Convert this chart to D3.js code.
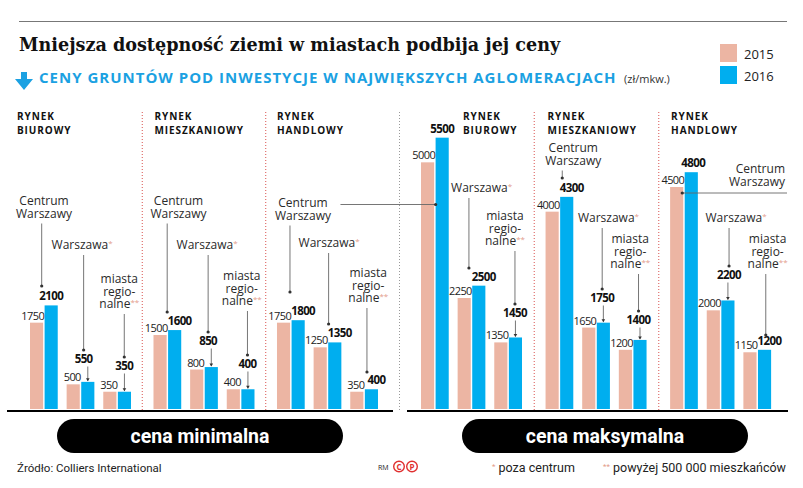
<!DOCTYPE html>
<html>
<head>
<meta charset="utf-8">
<script src="https://cdn.jsdelivr.net/npm/d3@7"></script>
<style>
  body { margin: 0; background: #fff; }
  svg { display: block; }
</style>
</head>
<body>
<div id="chart"></div>
<script>
// --- dane ---
const years = ["2015", "2016"];
const priceTypes = ["cena minimalna", "cena maksymalna"];
const markets = [["RYNEK", "BIUROWY"], ["RYNEK", "MIESZKANIOWY"], ["RYNEK", "HANDLOWY"]];
const locations = ["Centrum Warszawy", "Warszawa*", "miasta regionalne**"];
const locationLines = [["Centrum", "Warszawy"], ["Warszawa*"], ["miasta", "regio-", "nalne**"]];
// kolejnosc: biurowy (3 lokalizacje), mieszkaniowy, handlowy
const min2015 = [1750, 500, 350, 1500, 800, 400, 1750, 1250, 350];
const min2016 = [2100, 550, 350, 1600, 850, 400, 1800, 1350, 400];
const max2015 = [5000, 2250, 1350, 4000, 1650, 1200, 4500, 2000, 1150];
const max2016 = [5500, 2500, 1450, 4300, 1750, 1400, 4800, 2200, 1200];
const source = "Źródło: Colliers International";

// --- uklad opisow (pozycje etykiet lokalizacji, nie dane) ---
// dx: srodek nazwy od poczatku grupy, lx: x linii odnosnika, ty: linia bazowa 1. wiersza,
// dot: koniec odnosnika, float: wartosc 2016 "zawieszona" nad slupkiem
const labelLayout = [
  {dx: 14, lx: 11.7, ty: 205, dot: 286, float: false, vdx: 0},
  {dx: 15.5, lx: 17, ty: 249, dot: 350, float: true},
  {dx: 16, lx: 21, ty: 283, dot: 357, float: true},
  {dx: 25, lx: 13.7, ty: 205, dot: 312, float: false},
  {dx: 17, lx: 18, ty: 249, dot: 332, float: true},
  {dx: 15, lx: 20.7, ty: 280, dot: 355, float: true},
  {dx: 26, lx: 13, ty: 207, dot: 292, float: false, link: 9},
  {dx: 15.5, lx: 15, ty: 247, dot: 324, float: false},
  {dx: 18, lx: 16.7, ty: 277, dot: 372, float: false},
  {none: true, vdx: 0},
  {dx: 24, lx: 11.3, ty: 192, dot: 268, float: false},
  {dx: 10.7, lx: 20.7, ty: 220, dot: 304, float: true},
  {dx: 27.7, lx: 16.7, ty: 152, dot: 178, float: false},
  {dx: 26.3, lx: 20, ty: 222, dot: 289, float: true},
  {dx: 11.4, lx: 19.7, ty: 243, dot: 311, float: true},
  {right: true, ty: 173, lineY: 193, vdx: 2},
  {dx: 29.3, lx: 22.3, ty: 222, dot: 266, float: true},
  {dx: 24.2, lx: 22.4, ty: 243, dot: 335, float: false}
];
const headerDx = [[-13, 1, 0], [42, 2, 1]];

const PINK = "#ecb5a3", BLUE = "#00aeef", LEAD = "#666";
const W = 803, H = 488;

const rows = [];
priceTypes.forEach((p, pi) => {
  const v15 = pi === 0 ? min2015 : max2015;
  const v16 = pi === 0 ? min2016 : max2016;
  markets.forEach((m, mi) => {
    locations.forEach((l, li) => {
      const k = mi * 3 + li;
      rows.push({price: p, pi, market: m, mi, loc: l, li, "2015": v15[k], "2016": v16[k]});
    });
  });
});

const svg = d3.select("#chart").append("svg").attr("width", W).attr("height", H)
  .style("font-family", "'Open Sans', sans-serif");

// --- skale ---
const y = d3.scaleLinear().domain([0, 6000]).range([409, 113]);
const panelX = [
  d3.scaleBand().domain(d3.range(3)).range([30, 378]).paddingInner(0.182),
  d3.scaleBand().domain(d3.range(3)).range([421, 772]).paddingInner(0.182)
];
const groupX = d3.scaleBand().domain(locations).range([0, 101]).paddingInner(0.243);
const yearX = d3.scaleBand().domain(years).range([0, groupX.bandwidth()]).paddingInner(0.1);
const halfExtent = [[7, 393], [407, 788]];

const gx = d => panelX[d.pi](d.mi) + groupX(d.loc);

// --- naglowek ---
svg.append("line").attr("x1", 19).attr("x2", 787).attr("y1", 21.5).attr("y2", 21.5)
  .attr("stroke", "#777").attr("stroke-width", 1);
svg.append("text").attr("x", 19).attr("y", 51)
  .style("font-family", "'DejaVu Serif', serif").style("font-weight", 700)
  .style("font-size", "17.6px").attr("fill", "#111")
  .text("Mniejsza dostępność ziemi w miastach podbija jej ceny");

svg.append("path")
  .attr("d", "M21,72 h6 v7 h6 l-9,11 l-9,-11 h6 z")
  .attr("fill", "#1ba1e2");
svg.append("text").attr("x", 39).attr("y", 83)
  .style("font-size", "15px").style("font-weight", 700).style("letter-spacing", "1px")
  .attr("fill", "#1ba1e2")
  .text("CENY GRUNTÓW POD INWESTYCJE W NAJWIĘKSZYCH AGLOMERACJACH");
svg.append("text").attr("x", 624).attr("y", 83)
  .style("font-size", "11px").attr("fill", "#333").text("(zł/mkw.)");

// legenda
const leg = svg.append("g");
years.forEach((yr, i) => {
  leg.append("rect").attr("x", 720).attr("y", 44 + i * 22).attr("width", 17).attr("height", 18)
    .attr("fill", i === 0 ? PINK : BLUE);
  leg.append("text").attr("x", 744).attr("y", 59 + i * 22)
    .style("font-size", "13px").attr("fill", "#222").text(yr);
});

// --- separatory ---
priceTypes.forEach((p, pi) => {
  [0, 1].forEach(j => {
    const sx = (panelX[pi](j) + panelX[pi].bandwidth() + panelX[pi](j + 1)) / 2;
    svg.append("line").attr("x1", sx).attr("x2", sx).attr("y1", 112).attr("y2", 410)
      .attr("stroke", "#d9534f").attr("stroke-width", 1).attr("stroke-dasharray", "1,2");
  });
});
svg.append("line").attr("x1", 399.5).attr("x2", 399.5).attr("y1", 112).attr("y2", 410)
  .attr("stroke", "#999").attr("stroke-width", 1).attr("stroke-dasharray", "1,2");

// naglowki rynkow
priceTypes.forEach((p, pi) => {
  markets.forEach((m, mi) => {
    const hx = panelX[pi](mi) + headerDx[pi][mi];
    const t = svg.append("text")
      .style("font-size", "10px").style("font-weight", 700).style("letter-spacing", "0.9px")
      .attr("fill", "#111");
    m.forEach((line, k) => t.append("tspan").attr("x", hx).attr("y", 120 + k * 14).text(line));
  });
});

// --- slupki ---
const groups = svg.selectAll("g.grp").data(rows).join("g").attr("class", "grp")
  .attr("transform", d => `translate(${gx(d)},0)`);
groups.selectAll("rect").data(d => years.map(yr => ({yr, v: d[yr]}))).join("rect")
  .attr("x", d => yearX(d.yr))
  .attr("y", d => y(d.v))
  .attr("width", yearX.bandwidth())
  .attr("height", d => y(0) - y(d.v))
  .attr("fill", d => d.yr === "2015" ? PINK : BLUE);

// linie bazowe
halfExtent.forEach(([a, b]) => {
  svg.append("line").attr("x1", a).attr("x2", b).attr("y1", 411).attr("y2", 411)
    .attr("stroke", "#000").attr("stroke-width", 2.2);
});

// --- etykiety wartosci i odnosniki ---
const ann = svg.append("g");
function nameText(x, ty, lines, anchor) {
  const t = ann.append("text").attr("text-anchor", anchor || "middle")
    .style("font-size", "12px").attr("fill", "#2a2a2a");
  lines.forEach((line, k) => {
    const stars = (line.match(/\*+$/) || [""])[0];
    t.append("tspan").attr("x", x).attr("y", ty + k * 12.5).text(line.replace(/\*+$/, ""));
    if (stars) t.append("tspan").attr("dy", -3).style("font-size", "8px").attr("fill", "#e39c8a").text(stars);
  });
  return t;
}
function dot(x, yy) {
  ann.append("circle").attr("cx", x).attr("cy", yy).attr("r", 1.6).attr("fill", "#333");
}
function lead(x1, y1, x2, y2) {
  ann.append("line").attr("x1", x1).attr("y1", y1).attr("x2", x2).attr("y2", y2)
    .attr("stroke", LEAD).attr("stroke-width", 0.9);
}

rows.forEach((d, i) => {
  const L = labelLayout[i];
  const x0 = gx(d);
  const bw = yearX.bandwidth();
  const xp = x0 + yearX("2015"), xb = x0 + yearX("2016");
  const top15 = y(d["2015"]), top16 = y(d["2016"]);

  // 2015 - zwykla
  ann.append("text").attr("x", xp + bw + 1).attr("y", top15 - 3).attr("text-anchor", "end")
    .style("font-size", "11px").style("letter-spacing", "-0.6px").attr("fill", "#222")
    .text(d["2015"]);

  // 2016 - pogrubiona
  let vx, vy;
  if (L.float) {
    vx = x0 + L.lx; vy = L.dot + 12.5;
    lead(xb + bw / 2, vy + 4, xb + bw / 2, top16 - 1);
    ann.append("path").attr("d", `M${xb + bw / 2 - 1.8},${top16 - 3.5} h3.6 l-1.8,3 z`).attr("fill", "#333");
  } else {
    vx = xb + bw / 2 + (L.vdx !== undefined ? L.vdx : 5); vy = top16 - 5;
  }
  ann.append("text").attr("x", vx).attr("y", vy).attr("text-anchor", "middle")
    .style("font-size", "11.5px").style("font-weight", 700).style("letter-spacing", "-0.6px")
    .attr("fill", "#111").text(d["2016"]);

  // nazwa lokalizacji
  const lines = locationLines[d.li];
  if (L.right) {
    nameText(halfExtent[1][1] - 3, L.ty, lines, "end");
    lead(xp + bw - 1, L.lineY, halfExtent[1][1] - 1, L.lineY);
    dot(xp + bw - 1, L.lineY);
  } else if (!L.none) {
    const cx = x0 + L.dx, lx = x0 + L.lx;
    const t = nameText(cx, L.ty, lines);
    lead(lx, L.ty + (lines.length - 1) * 12.5 + 6, lx, L.dot);
    dot(lx, L.dot);
    if (L.link !== undefined) {
      const target = rows[L.link];
      const tx = gx(target) + yearX("2016");
      const w = t.node().getBBox().width;
      lead(cx + w / 2 + 9, L.ty - 2.5, tx, L.ty - 2.5);
      dot(tx, L.ty - 2.5);
    }
  }
});

// --- pigulki ---
const pillCx = [200, 605];
priceTypes.forEach((p, pi) => {
  svg.append("rect").attr("x", pillCx[pi] - 143).attr("y", 419).attr("width", 286).attr("height", 34)
    .attr("rx", 17).attr("fill", "#000");
  svg.append("text").attr("x", pillCx[pi]).attr("y", 443).attr("text-anchor", "middle")
    .style("font-family", "Roboto, sans-serif").style("font-weight", 700).style("font-size", "19.5px")
    .attr("fill", "#fff").text(p);
});

// --- stopka ---
svg.append("text").attr("x", 17).attr("y", 472).style("font-family", "Roboto, sans-serif")
  .style("font-size", "11.5px").attr("fill", "#222").text(source);
svg.append("text").attr("x", 378).attr("y", 470).style("font-size", "7px").attr("fill", "#222").text("RM");
["C", "P"].forEach((c, i) => {
  svg.append("circle").attr("cx", 399 + i * 13).attr("cy", 466.5).attr("r", 5.3)
    .attr("fill", "none").attr("stroke", "#e03030").attr("stroke-width", 1.4);
  svg.append("text").attr("x", 399 + i * 13).attr("y", 469.5).attr("text-anchor", "middle")
    .style("font-size", "8px").style("font-weight", 700).attr("fill", "#e03030").text(c);
});
const note = (x, stars, txt) => {
  const t = svg.append("text").attr("x", x).attr("y", 472).style("font-family", "Roboto, sans-serif")
    .style("font-size", "12.5px").attr("fill", "#222");
  t.append("tspan").attr("dy", -3).style("font-size", "8px").attr("fill", "#e39c8a").text(stars);
  t.append("tspan").attr("dy", 3).text(" " + txt);
};
note(492, "*", "poza centrum");
note(603, "**", "powyżej 500 000 mieszkańców");
</script>
</body>
</html>
